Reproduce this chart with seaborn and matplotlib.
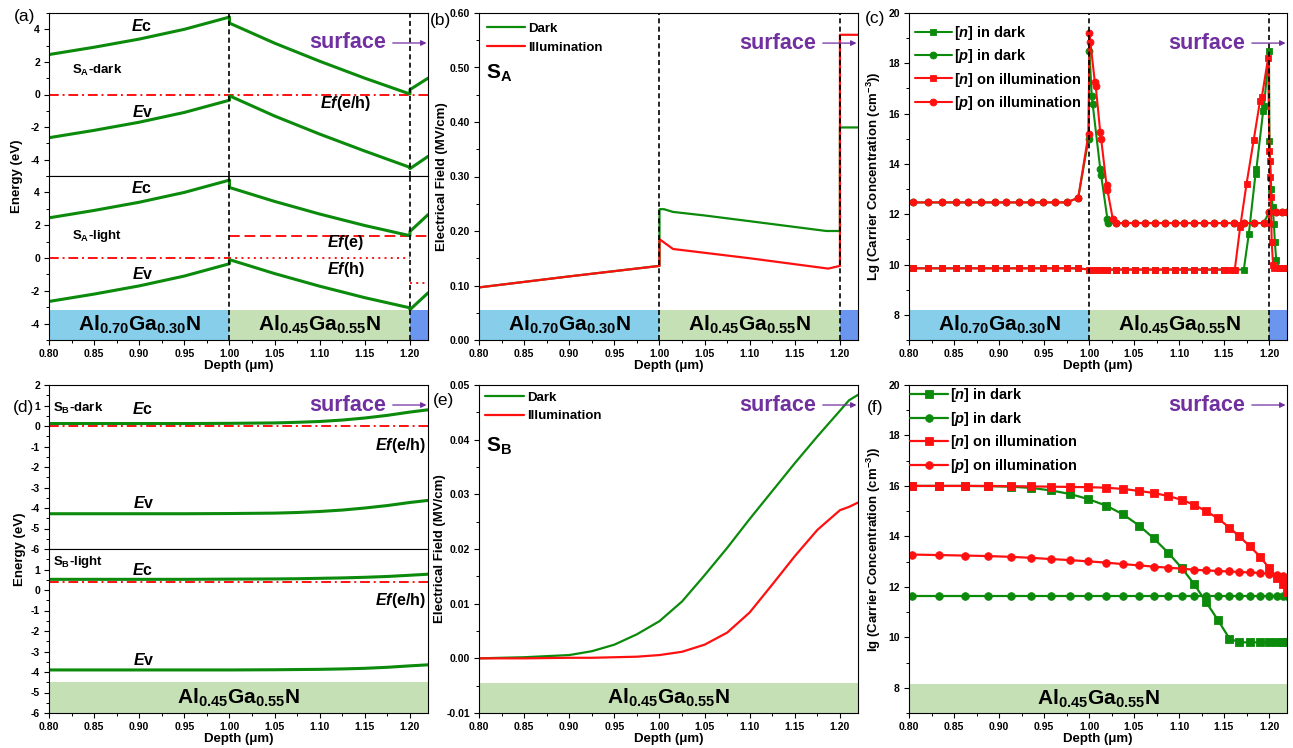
import matplotlib
matplotlib.use("Agg")
import matplotlib.pyplot as plt
from matplotlib.patches import Rectangle
from matplotlib.ticker import MultipleLocator, FormatStrFormatter, FixedLocator
import seaborn as sns

# ------------------------------------------------------------------
# Layer stack (depth in µm)
# ------------------------------------------------------------------
layer_edges_A = [0.80, 1.00, 1.20, 1.22]
layer_names_A = [r"Al$_{0.70}$Ga$_{0.30}$N", r"Al$_{0.45}$Ga$_{0.55}$N", ""]
layer_colors_A = ["#87CEEB", "#C5E0B4", "#6A96F0"]
layer_edges_B = [0.80, 1.22]
layer_names_B = [r"Al$_{0.45}$Ga$_{0.55}$N"]
layer_colors_B = ["#C5E0B4"]
interfaces_A = [1.00, 1.20]

# ------------------------------------------------------------------
# (a) band diagram of sample A
# ------------------------------------------------------------------
a_depth = [0.80, 0.85, 0.90, 0.95, 1.00, 1.00, 1.05, 1.10, 1.15, 1.20, 1.20, 1.22]
a_dark_ec = [2.45, 2.90, 3.40, 4.00, 4.75, 4.38, 3.15, 2.04, 1.00, 0.03, 0.30, 1.00]
a_dark_ev = [-2.65, -2.20, -1.70, -1.10, -0.35, -0.08, -1.32, -2.43, -3.47, -4.47, -4.55, -3.80]
a_light_ec = [2.45, 2.90, 3.40, 4.00, 4.75, 4.30, 3.45, 2.68, 1.98, 1.36, 1.62, 2.64]
a_light_ev = [-2.65, -2.20, -1.70, -1.10, -0.35, -0.10, -0.95, -1.72, -2.42, -3.04, -3.15, -2.13]
a_dark_ef = 0.0
a_light_ef_bulk = 0.0
a_light_efn = 1.33
a_light_efp = 0.0
a_light_efp_cap = -1.52

# ------------------------------------------------------------------
# (b) electric field of sample A (MV/cm)
# ------------------------------------------------------------------
b_dark_depth = [0.80, 0.90, 1.00, 1.00, 1.005, 1.015, 1.05, 1.10, 1.185, 1.20, 1.20, 1.22]
b_dark_field = [0.0965, 0.1167, 0.136, 0.240, 0.240, 0.235, 0.2285, 0.218, 0.200, 0.200, 0.390, 0.390]
b_light_depth = [0.80, 0.90, 1.00, 1.00, 1.015, 1.10, 1.187, 1.20, 1.20, 1.22]
b_light_field = [0.0965, 0.1167, 0.136, 0.185, 0.167, 0.150, 0.131, 0.136, 0.560, 0.560]

# ------------------------------------------------------------------
# (c) carrier concentration of sample A, lg(cm^-3)
# ------------------------------------------------------------------
c_n_dark_depth = [0.804, 0.821, 0.837, 0.852, 0.866, 0.880, 0.895, 0.908, 0.922, 0.936, 0.949, 0.962, 0.975,
                  0.988, 1.0005, 1.0075, 1.0135, 1.0205, 1.030, 1.040, 1.051, 1.062, 1.073, 1.084, 1.095,
                  1.106, 1.117, 1.128, 1.139, 1.150, 1.161, 1.172, 1.1775, 1.185, 1.186, 1.1935, 1.1945,
                  1.200, 1.2005, 1.2025, 1.204, 1.2055, 1.2065, 1.208, 1.212, 1.217, 1.220]
c_n_dark = [9.85, 9.85, 9.85, 9.85, 9.85, 9.85, 9.85, 9.85, 9.85, 9.85, 9.85, 9.85, 9.85,
            9.85, 9.80, 9.80, 9.80, 9.80, 9.80, 9.80, 9.80, 9.80, 9.80, 9.80, 9.80,
            9.80, 9.80, 9.80, 9.80, 9.80, 9.80, 9.80, 11.2, 13.6, 13.8, 16.1, 16.3,
            18.5, 14.9, 13.0, 12.3, 11.6, 10.9, 10.2, 9.85, 9.85, 9.85]
c_p_dark_depth = [0.804, 0.821, 0.837, 0.852, 0.866, 0.880, 0.895, 0.908, 0.922, 0.936, 0.949, 0.962, 0.975,
                  0.988, 0.9995, 1.0005, 1.003, 1.004, 1.0125, 1.0135, 1.0205, 1.0215,
                  1.030, 1.040, 1.051, 1.062, 1.073, 1.084, 1.095, 1.106, 1.117, 1.128, 1.139, 1.150,
                  1.161, 1.172, 1.183, 1.194, 1.2005, 1.208, 1.214, 1.220]
c_p_dark = [12.47, 12.47, 12.47, 12.47, 12.47, 12.47, 12.47, 12.47, 12.47, 12.47, 12.47, 12.47, 12.47,
            12.65, 15.0, 18.5, 16.7, 16.4, 13.8, 13.55, 11.8, 11.65,
            11.65, 11.65, 11.65, 11.65, 11.65, 11.65, 11.65, 11.65, 11.65, 11.65, 11.65, 11.65,
            11.65, 11.65, 11.65, 11.65, 12.1, 12.1, 12.1, 12.1]
c_n_light_depth = [0.804, 0.821, 0.837, 0.852, 0.866, 0.880, 0.895, 0.908, 0.922, 0.936, 0.949, 0.962, 0.975,
                   0.988, 1.0005, 1.0075, 1.0135, 1.0205, 1.030, 1.040, 1.051, 1.062, 1.073, 1.084, 1.095,
                   1.106, 1.117, 1.128, 1.139, 1.150, 1.156, 1.162, 1.168, 1.175, 1.183, 1.190, 1.192,
                   1.199, 1.2005, 1.201, 1.2015, 1.202, 1.203, 1.2045, 1.206, 1.212, 1.217, 1.220]
c_n_light = [9.85, 9.85, 9.85, 9.85, 9.85, 9.85, 9.85, 9.85, 9.85, 9.85, 9.85, 9.85, 9.85,
             9.85, 9.80, 9.80, 9.80, 9.80, 9.80, 9.80, 9.80, 9.80, 9.80, 9.80, 9.80,
             9.80, 9.80, 9.80, 9.80, 9.80, 9.80, 9.80, 11.5, 13.2, 14.95, 16.5, 16.65,
             18.2, 14.5, 14.1, 13.5, 12.7, 10.9, 10.0, 9.85, 9.85, 9.85, 9.85]
c_p_light_depth = [0.804, 0.821, 0.837, 0.852, 0.866, 0.880, 0.895, 0.908, 0.922, 0.936, 0.949, 0.962, 0.975,
                   0.988, 0.9995, 1.0005, 1.0015, 1.0065, 1.0075, 1.0125, 1.0135, 1.0195, 1.0205, 1.0265,
                   1.030, 1.040, 1.051, 1.062, 1.073, 1.084, 1.095, 1.106, 1.117, 1.128, 1.139, 1.150,
                   1.161, 1.172, 1.183, 1.194, 1.1995, 1.2005, 1.208, 1.214, 1.220]
c_p_light = [12.47, 12.47, 12.47, 12.47, 12.47, 12.47, 12.47, 12.47, 12.47, 12.47, 12.47, 12.47, 12.47,
             12.65, 15.2, 19.2, 18.85, 17.25, 17.1, 15.25, 15.0, 13.15, 12.95, 11.8,
             11.65, 11.65, 11.65, 11.65, 11.65, 11.65, 11.65, 11.65, 11.65, 11.65, 11.65, 11.65,
             11.65, 11.65, 11.65, 11.65, 11.65, 12.1, 12.1, 12.1, 12.1]

# ------------------------------------------------------------------
# (d) band diagram of sample B
# ------------------------------------------------------------------
d_depth = [0.80, 0.85, 0.90, 0.95, 1.00, 1.05, 1.075, 1.10, 1.125, 1.15, 1.175, 1.20, 1.22]
d_dark_ec = [0.12, 0.12, 0.12, 0.12, 0.13, 0.15, 0.18, 0.22, 0.29, 0.39, 0.52, 0.68, 0.79]
d_dark_ev = [-4.28, -4.28, -4.28, -4.28, -4.27, -4.25, -4.22, -4.17, -4.10, -4.00, -3.88, -3.73, -3.63]
d_light_ec = [0.52, 0.52, 0.52, 0.52, 0.53, 0.54, 0.55, 0.57, 0.59, 0.62, 0.66, 0.72, 0.77]
d_light_ev = [-3.90, -3.90, -3.90, -3.90, -3.90, -3.89, -3.88, -3.87, -3.85, -3.82, -3.77, -3.70, -3.65]
d_dark_ef = 0.0
d_light_ef = 0.38

# ------------------------------------------------------------------
# (e) electric field of sample B (MV/cm)
# ------------------------------------------------------------------
e_depth = [0.80, 0.85, 0.90, 0.925, 0.95, 0.975, 1.00, 1.025, 1.05, 1.075, 1.10, 1.125, 1.15, 1.175, 1.20, 1.21, 1.22]
e_dark = [0.0, 0.0002, 0.0006, 0.0013, 0.0025, 0.0044, 0.0068, 0.0104, 0.0152, 0.0202, 0.0255, 0.0306,
          0.0357, 0.0406, 0.0453, 0.0472, 0.0482]
e_light = [0.0, 0.0, 0.0001, 0.0001, 0.0002, 0.0003, 0.0006, 0.0012, 0.0025, 0.0047, 0.0084, 0.0135,
           0.0187, 0.0235, 0.0271, 0.0277, 0.0285]

# ------------------------------------------------------------------
# (f) carrier concentration of sample B, lg(cm^-3)
# ------------------------------------------------------------------
f_depth = [0.803, 0.833, 0.862, 0.888, 0.913, 0.936, 0.958, 0.979, 0.999, 1.019, 1.038, 1.056, 1.072,
           1.088, 1.103, 1.117, 1.130, 1.143, 1.156, 1.167, 1.179, 1.190, 1.200, 1.209, 1.216, 1.220]
f_n_dark = [16.0, 16.0, 16.0, 15.99, 15.97, 15.92, 15.82, 15.68, 15.48, 15.22, 14.87, 14.42, 13.92,
            13.35, 12.75, 12.1, 11.4, 10.7, 9.95, 9.8, 9.8, 9.8, 9.8, 9.8, 9.8, 9.8]
f_p_dark = [11.65, 11.65, 11.65, 11.65, 11.65, 11.65, 11.65, 11.65, 11.65, 11.65, 11.65, 11.65, 11.65,
            11.65, 11.65, 11.65, 11.65, 11.65, 11.65, 11.65, 11.65, 11.65, 11.65, 11.65, 11.65, 11.65]
f_n_light = [16.0, 16.0, 16.0, 16.0, 15.99, 15.98, 15.97, 15.96, 15.95, 15.93, 15.88, 15.80, 15.72,
             15.60, 15.45, 15.25, 15.0, 14.72, 14.35, 14.0, 13.6, 13.2, 12.75, 12.35, 12.1, 11.8]
f_p_light = [13.28, 13.26, 13.24, 13.22, 13.19, 13.15, 13.10, 13.06, 13.01, 12.96, 12.90, 12.85, 12.80,
             12.76, 12.72, 12.68, 12.65, 12.63, 12.61, 12.59, 12.57, 12.55, 12.52, 12.48, 12.42, 12.2]

series_labels = [r"[$\it{n}$] in dark", r"[$\it{p}$] in dark",
                 r"[$\it{n}$] on illumination", r"[$\it{p}$] on illumination"]

# ------------------------------------------------------------------
# Style
# ------------------------------------------------------------------
sns.set_style("ticks")
plt.rcParams.update({
    "font.family": ["Liberation Sans", "DejaVu Sans"],
    "font.weight": "bold",
    "axes.labelweight": "bold",
    "axes.unicode_minus": False,
    "mathtext.fontset": "custom",
    "mathtext.rm": "Liberation Sans:bold",
    "mathtext.it": "Liberation Sans:italic:bold",
    "mathtext.bf": "Liberation Sans:bold",
    "axes.edgecolor": "black",
    "axes.linewidth": 0.8,
    "xtick.color": "black",
    "ytick.color": "black",
    "text.color": "black",
    "axes.labelcolor": "black",
})

GREEN = "#0B8A0B"
RED = "#FF1010"
PURPLE = "#7030A0"
W, H = 1293, 748

fig = plt.figure(figsize=(W / 100, H / 100), dpi=100)


def add_ax(left, top, bottom, width=379):
    return fig.add_axes([left / W, 1 - bottom / H, width / W, (bottom - top) / H])


def style_ax(ax, show_x=True):
    ax.set_xlim(0.80, 1.22)
    ax.xaxis.set_major_locator(MultipleLocator(0.05))
    ax.xaxis.set_minor_locator(MultipleLocator(0.025))
    ax.xaxis.set_major_formatter(FormatStrFormatter("%.2f"))
    ax.tick_params(which="major", direction="out", length=3.5, width=0.8, labelsize=7.5, pad=3)
    ax.tick_params(which="minor", direction="out", length=2, width=0.7)
    ax.tick_params(top=False, right=False, which="both")
    if show_x:
        ax.set_xlabel("Depth (μm)", fontsize=9.5, labelpad=1)
    else:
        ax.tick_params(axis="x", which="both", bottom=False, labelbottom=False)
    for s in ax.spines.values():
        s.set_visible(True)
        s.set_linewidth(0.8)
        s.set_color("black")


def curve(ax, x, y, color, lw, ls="-", **kw):
    sns.lineplot(x=x, y=y, ax=ax, color=color, linewidth=lw, linestyle=ls,
                 estimator=None, sort=False, legend=False, **kw)


def level(ax, x0, x1, value, color, lw, ls):
    curve(ax, [x0, x1], [value, value], color, lw, ls)


def layers(ax, y0, y1, edges, colors, names, size=15):
    for i, (c, name) in enumerate(zip(colors, names)):
        a, b = edges[i], edges[i + 1]
        ax.add_patch(Rectangle((a, y0), b - a, y1 - y0, facecolor=c, edgecolor="none", zorder=0.5))
        if name:
            ax.text((a + b) / 2, (y0 + y1) / 2, name, ha="center", va="center",
                    fontsize=size, fontweight="bold", zorder=1)


def interfaces(ax):
    for x in interfaces_A:
        ax.axvline(x, color="black", lw=1.2, ls=(0, (3, 2)), zorder=4)


def surface(ax, yfrac):
    ax.annotate("", xy=(0.996, yfrac), xytext=(0.907, yfrac), xycoords="axes fraction",
                arrowprops=dict(arrowstyle="-|>", color=PURPLE, lw=0.9, shrinkA=0, shrinkB=0,
                                mutation_scale=8), zorder=5)
    ax.text(0.889, yfrac, "surface", transform=ax.transAxes, ha="right", va="center",
            color=PURPLE, fontsize=15.5, fontweight="bold", zorder=5)


DASHDOT = (0, (5, 2, 1, 2))
DASHED = (0, (5.5, 2.5))
DOTTED = (0, (1, 2.2))

# ---------------------------- (a) ---------------------------------
ax_a1 = add_ax(49, 13, 176)
ax_a2 = add_ax(49, 176, 340)
for ax in (ax_a1, ax_a2):
    ax.set_ylim(-5, 5)
    ax.yaxis.set_major_locator(FixedLocator([-4, -2, 0, 2, 4]))
    ax.yaxis.set_minor_locator(FixedLocator([-5, -3, -1, 1, 3, 5]))
    ax.yaxis.set_major_formatter(FormatStrFormatter("%d"))
style_ax(ax_a1, show_x=False)
style_ax(ax_a2)

level(ax_a1, 0.80, 1.22, a_dark_ef, RED, 1.4, DASHDOT)
curve(ax_a1, a_depth, a_dark_ec, GREEN, 2.2)
curve(ax_a1, a_depth, a_dark_ev, GREEN, 2.2)

layers(ax_a2, -5, -3.2, layer_edges_A, layer_colors_A, layer_names_A)
level(ax_a2, 0.80, 1.00, a_light_ef_bulk, RED, 1.4, DASHDOT)
level(ax_a2, 1.00, 1.22, a_light_efn, RED, 1.4, DASHED)
level(ax_a2, 1.00, 1.20, a_light_efp, RED, 1.4, DOTTED)
level(ax_a2, 1.20, 1.22, a_light_efp_cap, RED, 1.4, DOTTED)
curve(ax_a2, a_depth, a_light_ec, GREEN, 2.2)
curve(ax_a2, a_depth, a_light_ev, GREEN, 2.2)
interfaces(ax_a1)
interfaces(ax_a2)

lab_kw = dict(fontsize=11.5, fontweight="bold", ha="center", va="center")
ef_kw = dict(fontsize=11.5, fontweight="bold", va="center")
tag_kw = dict(fontsize=9.5, fontweight="bold", va="center")
ax_a1.text(0.903, 4.2, r"$\it{E}$c", **lab_kw)
ax_a1.text(0.904, -1.05, r"$\it{E}$v", **lab_kw)
ax_a1.text(0.8255, 1.5, r"S$_{\mathrm{A}}$-dark", **tag_kw)
ax_a1.text(1.100, -0.57, r"$\it{Ef}$(e/h)", **ef_kw)
ax_a2.text(0.903, 4.29, r"$\it{E}$c", **lab_kw)
ax_a2.text(0.904, -1.0, r"$\it{E}$v", **lab_kw)
ax_a2.text(0.8255, 1.36, r"S$_{\mathrm{A}}$-light", **tag_kw)
ax_a2.text(1.108, 0.93, r"$\it{Ef}$(e)", **ef_kw)
ax_a2.text(1.108, -0.71, r"$\it{Ef}$(h)", **ef_kw)
surface(ax_a1, 0.816)
fig.text(17 / W, 1 - 176.5 / H, "Energy (eV)", rotation=90, ha="center", va="center",
         fontsize=9.5, fontweight="bold")

# ---------------------------- (b) ---------------------------------
ax_b = add_ax(479, 13, 340)
style_ax(ax_b)
ax_b.set_ylim(0, 0.6)
ax_b.yaxis.set_major_locator(MultipleLocator(0.1))
ax_b.yaxis.set_minor_locator(MultipleLocator(0.05))
ax_b.yaxis.set_major_formatter(FormatStrFormatter("%.2f"))
layers(ax_b, 0, 0.055, layer_edges_A, layer_colors_A, layer_names_A)
curve(ax_b, b_dark_depth, b_dark_field, GREEN, 1.6, label="Dark")
curve(ax_b, b_light_depth, b_light_field, RED, 1.6, label="Illumination")
interfaces(ax_b)
ax_b.set_ylabel("Electrical Field (MV/cm)", fontsize=9.5, labelpad=1)
ax_b.text(0.808, 0.49, r"S$_{\mathrm{A}}$", fontsize=15, fontweight="bold", va="center")
ax_b.legend(loc="upper left", bbox_to_anchor=(0.0, 0.995), frameon=False, fontsize=9.5,
            handlelength=2.9, handletextpad=0.25, borderaxespad=0.3, borderpad=0.3,
            labelspacing=0.5)
surface(ax_b, 0.908)

# ---------------------------- (c) ---------------------------------
ax_c = add_ax(909, 13, 340, width=378)
style_ax(ax_c)
ax_c.set_ylim(7, 20)
ax_c.yaxis.set_major_locator(MultipleLocator(2))
ax_c.yaxis.set_minor_locator(MultipleLocator(1))
ax_c.yaxis.set_major_formatter(FormatStrFormatter("%d"))
layers(ax_c, 7, 8.2, layer_edges_A, layer_colors_A, layer_names_A)
mk = dict(markersize=5, markeredgewidth=0.6)
curve(ax_c, c_n_dark_depth, c_n_dark, GREEN, 1.5, marker="s", markeredgecolor=GREEN,
      label=series_labels[0], **mk)
curve(ax_c, c_p_dark_depth, c_p_dark, GREEN, 1.5, marker="o", markeredgecolor=GREEN,
      label=series_labels[1], **mk)
curve(ax_c, c_n_light_depth, c_n_light, RED, 1.5, marker="s", markeredgecolor=RED,
      label=series_labels[2], **mk)
curve(ax_c, c_p_light_depth, c_p_light, RED, 1.5, marker="o", markeredgecolor=RED,
      label=series_labels[3], **mk)
interfaces(ax_c)
ax_c.set_ylabel(r"Lg (Carrier Concentration (cm$^{-3}$))", fontsize=9.5, labelpad=4)
ax_c.legend(loc="upper left", bbox_to_anchor=(0.0, 0.985), frameon=False, fontsize=10.5,
            handlelength=2.55, handletextpad=0.15, borderaxespad=0.0, borderpad=0.4,
            labelspacing=0.37, numpoints=1)
surface(ax_c, 0.908)

# ---------------------------- (d) ---------------------------------
ax_d1 = add_ax(49, 385, 549)
ax_d2 = add_ax(49, 549, 713)
for ax in (ax_d1, ax_d2):
    ax.set_ylim(-6, 2)
    ax.yaxis.set_minor_locator(MultipleLocator(0.5))
    ax.yaxis.set_major_formatter(FormatStrFormatter("%d"))
ax_d1.yaxis.set_major_locator(FixedLocator([-6, -5, -4, -3, -2, -1, 0, 1, 2]))
ax_d2.yaxis.set_major_locator(FixedLocator([-6, -5, -4, -3, -2, -1, 0, 1]))
style_ax(ax_d1, show_x=False)
style_ax(ax_d2)
level(ax_d1, 0.80, 1.22, d_dark_ef, RED, 1.4, DASHDOT)
curve(ax_d1, d_depth, d_dark_ec, GREEN, 2.2)
curve(ax_d1, d_depth, d_dark_ev, GREEN, 2.2)
layers(ax_d2, -6, -4.5, layer_edges_B, layer_colors_B, layer_names_B)
level(ax_d2, 0.80, 1.22, d_light_ef, RED, 1.4, DASHDOT)
curve(ax_d2, d_depth, d_light_ec, GREEN, 2.2)
curve(ax_d2, d_depth, d_light_ev, GREEN, 2.2)
ax_d1.text(0.8044, 0.88, r"S$_{\mathrm{B}}$-dark", **tag_kw)
ax_d1.text(0.904, 0.85, r"$\it{E}$c", **lab_kw)
ax_d1.text(1.161, -0.93, r"$\it{Ef}$(e/h)", **ef_kw)
ax_d1.text(0.905, -3.76, r"$\it{E}$v", **lab_kw)
ax_d2.text(0.8044, 1.37, r"S$_{\mathrm{B}}$-light", **tag_kw)
ax_d2.text(0.904, 0.98, r"$\it{E}$c", **lab_kw)
ax_d2.text(1.161, -0.49, r"$\it{Ef}$(e/h)", **ef_kw)
ax_d2.text(0.905, -3.4, r"$\it{E}$v", **lab_kw)
surface(ax_d1, 0.878)
fig.text(20 / W, 1 - 549 / H, "Energy (eV)", rotation=90, ha="center", va="center",
         fontsize=9.5, fontweight="bold")

# ---------------------------- (e) ---------------------------------
ax_e = add_ax(479, 385, 713)
style_ax(ax_e)
ax_e.set_ylim(-0.01, 0.05)
ax_e.yaxis.set_major_locator(MultipleLocator(0.01))
ax_e.yaxis.set_minor_locator(MultipleLocator(0.005))
ax_e.yaxis.set_major_formatter(FormatStrFormatter("%.2f"))
layers(ax_e, -0.01, -0.0045, layer_edges_B, layer_colors_B, layer_names_B)
curve(ax_e, e_depth, e_dark, GREEN, 1.6, label="Dark")
curve(ax_e, e_depth, e_light, RED, 1.6, label="Illumination")
ax_e.set_ylabel("Electrical Field (MV/cm)", fontsize=9.5, labelpad=0)
ax_e.text(0.808, 0.0387, r"S$_{\mathrm{B}}$", fontsize=15, fontweight="bold", va="center")
ax_e.legend(loc="upper left", bbox_to_anchor=(0.0, 1.0), frameon=False, fontsize=9.5,
            handlelength=2.9, handletextpad=0.25, borderaxespad=0.28, borderpad=0.2,
            labelspacing=0.5)
surface(ax_e, 0.939)

# ---------------------------- (f) ---------------------------------
ax_f = add_ax(909, 385, 713, width=378)
style_ax(ax_f)
ax_f.set_ylim(7, 20)
ax_f.yaxis.set_major_locator(MultipleLocator(2))
ax_f.yaxis.set_minor_locator(MultipleLocator(1))
ax_f.yaxis.set_major_formatter(FormatStrFormatter("%d"))
layers(ax_f, 7, 8.15, layer_edges_B, layer_colors_B, layer_names_B)
mkf = dict(markersize=5.5, markeredgewidth=0.6)
curve(ax_f, f_depth, f_n_dark, GREEN, 1.6, marker="s", markeredgecolor=GREEN,
      label=series_labels[0], **mkf)
curve(ax_f, f_depth, f_p_dark, GREEN, 1.6, marker="o", markeredgecolor=GREEN,
      label=series_labels[1], **mkf)
curve(ax_f, f_depth, f_n_light, RED, 1.6, marker="s", markeredgecolor=RED,
      label=series_labels[2], **mkf)
curve(ax_f, f_depth, f_p_light, RED, 1.6, marker="o", markeredgecolor=RED,
      label=series_labels[3], **mkf)
ax_f.set_ylabel(r"lg (Carrier Concentration (cm$^{-3}$))", fontsize=9.5, labelpad=4)
ax_f.legend(loc="upper left", bbox_to_anchor=(0.0, 1.0), frameon=False, fontsize=10.5,
            handlelength=2.55, handletextpad=0.15, borderaxespad=0.0, borderpad=0.1,
            labelspacing=0.37, numpoints=1)
surface(ax_f, 0.939)

# ---------------------------- panel tags ---------------------------
for tag, x, y in [("(a)", 25, 16), ("(b)", 440, 20), ("(c)", 875, 18),
                  ("(d)", 23, 408), ("(e)", 443, 400), ("(f)", 875, 408)]:
    fig.text(x / W, 1 - y / H, tag, ha="center", va="center", fontsize=12.5, fontweight="normal")

fig.savefig("out.png", dpi=100)
